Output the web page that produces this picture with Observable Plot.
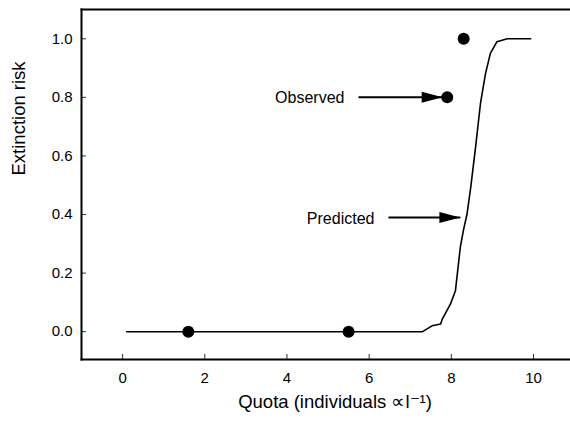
<!DOCTYPE html>
<html>
<head>
<meta charset="utf-8">
<script src="https://cdn.jsdelivr.net/npm/d3@7"></script>
<script src="https://cdn.jsdelivr.net/npm/@observablehq/plot@0.6"></script>
<style>
  html, body { margin: 0; padding: 0; background: white; }
  #chart { width: 570px; height: 422px; }
</style>
</head>
<body>
<div id="chart"></div>
<script>
// Observed extinction risk
const quota = [1.6, 5.5, 7.9, 8.3];
const observedRisk = [0, 0, 0.8, 1.0];

// Predicted curve
const curveQuota = [0.1, 7.3, 7.53, 7.74, 7.78, 7.98, 8.10, 8.18, 8.22, 8.30, 8.38, 8.47, 8.59, 8.71, 8.83, 8.95, 9.11, 9.36, 9.93];
const curveRisk  = [0,   0,   0.02, 0.026, 0.043, 0.095, 0.14, 0.24, 0.29, 0.35, 0.40, 0.49, 0.63, 0.78, 0.88, 0.95, 0.99, 1.0, 1.0];

// Annotation arrows
const arrowLabels = ["Observed", "Predicted"];
const arrowStart = [5.74, 6.47];
const arrowEnd = [7.79, 8.22];
const arrowRisk = [0.8, 0.39];

// Axis ticks
const xTicks = [0, 2, 4, 6, 8, 10];
const yTicks = [0, 0.2, 0.4, 0.6, 0.8, 1.0];
const xLabel = "Quota (individuals \u221Dl\u207B\u00B9)";
const yLabel = "Extinction risk";

const observed = quota.map((q, i) => ({quota: q, risk: observedRisk[i]}));
const curve = curveQuota.map((q, i) => ({quota: q, risk: curveRisk[i]}));
const arrows = arrowLabels.map((l, i) => ({label: l, x1: arrowStart[i], x2: arrowEnd[i], y: arrowRisk[i]}));

const arrowHead = {
  draw(ctx) {
    ctx.moveTo(0, 0);
    ctx.lineTo(-21, -5.5);
    ctx.lineTo(-21, 5.5);
    ctx.closePath();
  }
};

const chart = Plot.plot({
  width: 570,
  height: 422,
  marginLeft: 81,
  marginRight: 0,
  marginTop: 9,
  marginBottom: 63,
  style: {fontFamily: "'Liberation Sans', Arial, sans-serif", fontSize: "15px", color: "black", background: "white"},
  x: {domain: [-1, 10.9]},
  y: {domain: [-0.095, 1.1]},
  marks: [
    Plot.axisY(yTicks, {tickSize: 0, tickPadding: 9, tickFormat: d3.format(".1f"), label: null, fontSize: 15}),
    Plot.axisY(yTicks, {tickSize: 5, dx: 5, tickFormat: () => "", label: null, stroke: "#333"}),
    Plot.axisX(xTicks, {tickSize: 0, tickPadding: 13, label: null, fontSize: 15}),
    Plot.axisX(xTicks, {tickSize: 5, dy: -5, tickFormat: () => "", label: null, stroke: "#333"}),
    Plot.frame({anchor: "left", strokeWidth: 2, stroke: "black"}),
    Plot.frame({anchor: "top", strokeWidth: 2, stroke: "black"}),
    Plot.frame({anchor: "bottom", strokeWidth: 2, stroke: "black"}),
    Plot.line(curve, {x: "quota", y: "risk", stroke: "black", strokeWidth: 1.6}),
    Plot.dot(observed, {x: "quota", y: "risk", r: 6, fill: "black", stroke: "none"}),
    Plot.link(arrows, {x1: "x1", x2: "x2", y1: "y", y2: "y", stroke: "black", strokeWidth: 2}),
    Plot.dot(arrows, {x: "x2", y: "y", symbol: arrowHead, fill: "black", stroke: "none"}),
    Plot.text(arrows, {x: "x1", y: "y", text: "label", textAnchor: "end", dx: -14, dy: 1, fontSize: 16, fill: "black"}),
    Plot.text([yLabel], {frameAnchor: "left", rotate: -90, dx: -62, dy: -9, fontSize: 18.5, fill: "black"}),
    Plot.text([xLabel], {frameAnchor: "bottom", dy: 48, dx: 9, fontSize: 18.5, fill: "black"})
  ]
});
document.getElementById("chart").append(chart);
</script>
</body>
</html>
